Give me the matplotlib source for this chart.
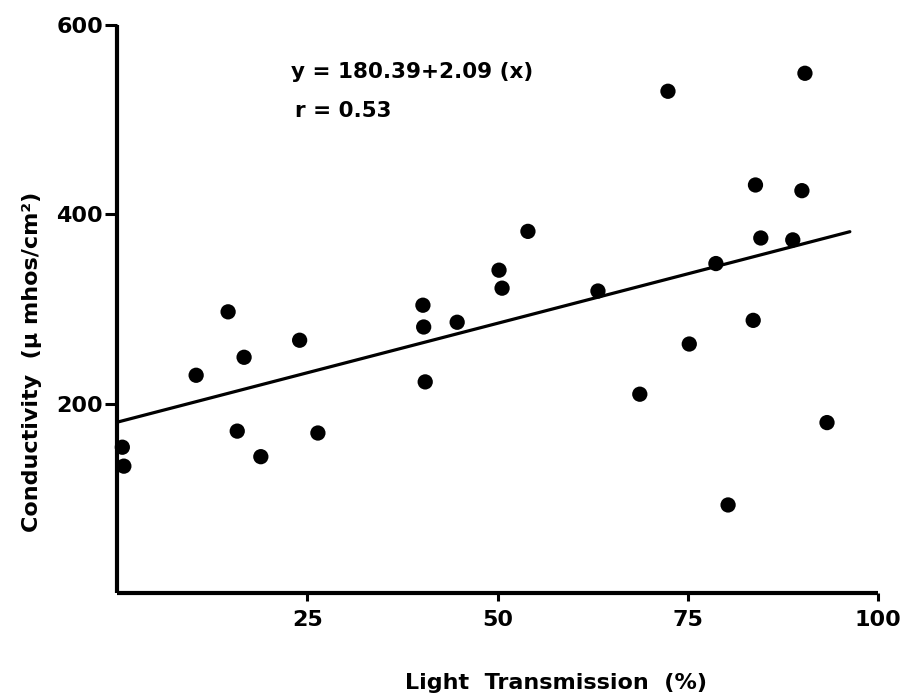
import matplotlib
matplotlib.use("Agg")
import matplotlib.pyplot as plt
import numpy as np

# Light transmission (%) and conductivity (umhos/cm2) for each sample
transmission = [0.7, 0.9, 10.4, 14.6, 16.7, 15.8, 18.9, 24.0, 26.4, 40.2,
                 40.3, 40.5, 44.7, 50.2, 50.6, 54.0, 63.2, 68.7, 72.4, 75.2,
                 78.7, 80.3, 83.6, 83.9, 84.6, 88.8, 90.0, 90.4, 93.3]
conductivity = [154, 134, 230, 297, 249, 171, 144, 267, 169, 304,
                281, 223, 286, 341, 322, 382, 319, 210, 530, 263,
                348, 93, 288, 431, 375, 373, 425, 549, 180]

# Fitted regression
intercept = 180.39
slope = 2.09
r_value = 0.53
fit_range = [0.0, 96.3]

x_ticks = [25, 50, 75, 100]
y_ticks = [200, 400, 600]

FONT = ["DejaVu Sans"]
plt.rcParams["font.family"] = FONT

fig = plt.figure(figsize=(9.05, 7.0), dpi=100)
ax = fig.add_axes([117 / 905, 107 / 700, (878 - 117) / 905, (593 - 25) / 700])

ax.scatter(transmission, conductivity, s=11 ** 2, color="black",
           edgecolors="none", zorder=3, clip_on=False)

fx = np.array(fit_range)
ax.plot(fx, intercept + slope * fx, color="black", lw=2.3,
        solid_capstyle="round", zorder=2)

ax.set_xlim(0, 100)
ax.set_ylim(0, 600)
ax.set_xticks(x_ticks)
ax.set_yticks(y_ticks)
ax.set_xticklabels([str(v) for v in x_ticks])
ax.set_yticklabels([str(v) for v in y_ticks])

for side in ("top", "right"):
    ax.spines[side].set_visible(False)
for side in ("left", "bottom"):
    ax.spines[side].set_linewidth(3.0)
    ax.spines[side].set_capstyle("butt")

ax.tick_params(axis="y", direction="out", length=9, width=2.2, pad=1,
               labelsize=16)
ax.tick_params(axis="x", direction="out", length=6, width=2.2, pad=6,
               labelsize=16)
for lab in ax.get_xticklabels() + ax.get_yticklabels():
    lab.set_fontweight("bold")

ax.text(0.228, 0.918, "y = 180.39+2.09 (x)", transform=ax.transAxes,
        fontsize=15.5, fontweight="bold", ha="left", va="center")
ax.text(0.234, 0.849, f"r = {r_value:.2f}", transform=ax.transAxes,
        fontsize=15.5, fontweight="bold", ha="left", va="center")

fig.text(32 / 905, 1 - 362 / 700, "Conductivity  (µ mhos/cm²)",
         rotation=90, ha="center", va="center", fontsize=16,
         fontweight="bold")
fig.text(556 / 905, 1 - 683 / 700, "Light  Transmission  (%)",
         ha="center", va="center", fontsize=16, fontweight="bold")

fig.savefig("out.png", dpi=100, facecolor="white")
